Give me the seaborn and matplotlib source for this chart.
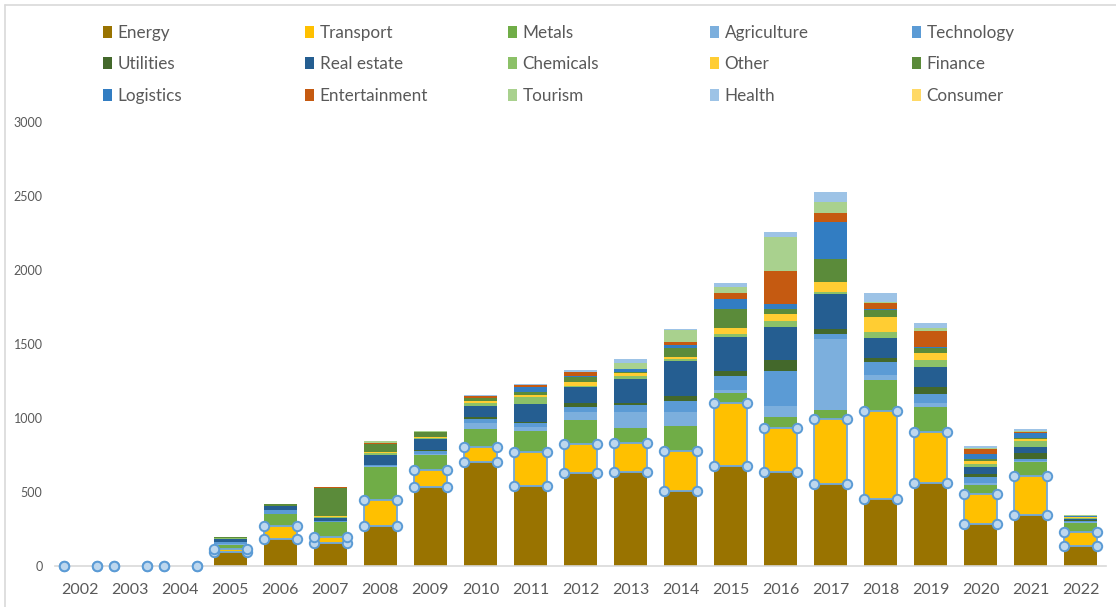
import numpy as np
import pandas as pd
import matplotlib
matplotlib.use("Agg")
import matplotlib.pyplot as plt
from matplotlib.patches import Patch
from matplotlib.lines import Line2D
import seaborn as sns

years = [str(y) for y in range(2002, 2023)]

energy        = [0, 0, 0, 92, 180, 155, 270, 536, 701, 543, 631, 638, 507, 676, 638, 552, 451, 559, 282, 343, 135]
transport     = [0, 0, 0, 25, 93, 39, 174, 111, 101, 228, 194, 194, 271, 428, 293, 442, 597, 349, 203, 265, 95]
metals        = [0, 0, 0, 25, 77, 101, 227, 103, 122, 144, 162, 103, 171, 68, 74, 61, 210, 165, 63, 93, 59]
agriculture   = [0, 0, 0, 5, 4, 3, 5, 8, 45, 23, 52, 108, 92, 18, 77, 478, 31, 27, 15, 9, 8]
technology    = [0, 0, 0, 15, 25, 7, 7, 18, 25, 27, 34, 46, 77, 97, 236, 36, 92, 63, 41, 11, 5]
utilities     = [0, 0, 0, 3, 0, 2, 3, 5, 16, 7, 27, 11, 33, 31, 75, 31, 23, 49, 16, 41, 6]
real_estate   = [0, 0, 0, 20, 29, 20, 67, 78, 72, 123, 112, 164, 237, 228, 223, 241, 140, 131, 51, 45, 10]
chemicals     = [0, 0, 0, 5, 0, 3, 8, 4, 18, 46, 5, 21, 10, 21, 40, 14, 38, 50, 19, 38, 6]
other         = [0, 0, 0, 0, 0, 8, 12, 10, 13, 15, 25, 18, 17, 40, 46, 63, 99, 49, 20, 12, 6]
finance       = [0, 0, 0, 4, 10, 191, 52, 30, 23, 22, 34, 9, 61, 133, 33, 156, 50, 34, 11, 11, 4]
logistics     = [0, 0, 0, 0, 0, 0, 0, 0, 0, 34, 8, 18, 16, 63, 38, 250, 4, 3, 34, 29, 2]
entertainment = [0, 0, 0, 0, 0, 5, 9, 0, 15, 12, 30, 0, 25, 41, 224, 61, 45, 110, 36, 11, 5]
tourism       = [0, 0, 0, 0, 0, 0, 10, 8, 0, 0, 0, 45, 79, 44, 225, 76, 7, 22, 9, 6, 2]
health        = [0, 0, 0, 0, 0, 0, 3, 5, 5, 7, 10, 22, 7, 23, 38, 66, 61, 30, 11, 10, 4]
consumer      = [0] * 21

series_names = ["Energy", "Transport", "Metals", "Agriculture", "Technology",
                "Utilities", "Real estate", "Chemicals", "Other", "Finance",
                "Logistics", "Entertainment", "Tourism", "Health", "Consumer"]
series_values = [energy, transport, metals, agriculture, technology,
                 utilities, real_estate, chemicals, other, finance,
                 logistics, entertainment, tourism, health, consumer]
series_colors = ["#997300", "#FFC000", "#70AD47", "#7CAFDD", "#5B9BD5",
                 "#43682B", "#255E91", "#8CC168", "#FFCD33", "#5B8B3A",
                 "#327DC2", "#C55A11", "#A9D18E", "#9DC3E6", "#FFD966"]

sns.set_theme(style="white")
plt.rcParams["font.family"] = ["Lato", "DejaVu Sans"]
text_color = "#595959"

W, H = 1116, 607
fig = plt.figure(figsize=(W / 100, H / 100), dpi=100)
ax = fig.add_axes([55 / W, 41 / H, 1051 / W, 443.7 / H])

bar_w = 0.66
cum = np.cumsum(np.array(series_values, dtype=float), axis=0)

# stacked bars: draw running totals from the top series down
for k in reversed(range(len(series_names))):
    df = pd.DataFrame({"year": years, "value": cum[k]})
    sns.barplot(data=df, x="year", y="value", order=years, color=series_colors[k],
                saturation=1, width=bar_w, errorbar=None, linewidth=0, ax=ax)

# selection outline and handles on the Transport series
xpos = np.arange(len(years))
base = np.array(energy, dtype=float)
tv = np.array(transport, dtype=float)
ax.bar(xpos[tv > 0], tv[tv > 0], bottom=base[tv > 0], width=bar_w, fill=False,
       edgecolor="#6FA8DC", linewidth=1.3, zorder=5)
hx = np.concatenate([xpos - bar_w / 2, xpos + bar_w / 2, xpos - bar_w / 2, xpos + bar_w / 2])
hy = np.concatenate([base, base, base + tv, base + tv])
ax.scatter(hx, hy, s=46, facecolor="#BDD7EE", edgecolor="#5B9BD5", linewidth=1.4,
           zorder=6, clip_on=False)

ax.set_xlim(-0.5, len(years) - 0.5)
ax.set_ylim(0, 3000)
ax.set_yticks(range(0, 3001, 500))
ax.set_xlabel("")
ax.set_ylabel("")
for s in ["top", "right", "left"]:
    ax.spines[s].set_visible(False)
ax.spines["bottom"].set_color("#D9D9D9")
ax.spines["bottom"].set_linewidth(1.2)
ax.tick_params(axis="y", length=0, pad=9, labelsize=9, labelcolor=text_color)
ax.tick_params(axis="x", length=0, pad=12, labelsize=11.5, labelcolor=text_color)

# chart border
fig.add_artist(Line2D([5 / W, 5 / W], [0, 1 - 5 / H], transform=fig.transFigure,
                      color="#D9D9D9", linewidth=1.2))
fig.add_artist(Line2D([5 / W, 1], [1 - 5 / H, 1 - 5 / H], transform=fig.transFigure,
                      color="#D9D9D9", linewidth=1.2))

# legend laid out row-wise in five columns
col_x = [103, 305, 508, 710, 912]
for j, x0 in enumerate(col_x):
    idx = [j, j + 5, j + 10]
    handles = [Patch(facecolor=series_colors[i], edgecolor="none") for i in idx]
    labels = [series_names[i] for i in idx]
    leg = fig.legend(handles, labels, loc="upper left", bbox_to_anchor=(x0 / W, 1 - 25 / H),
                     frameon=False, fontsize=12.3, handlelength=0.5, handleheight=0.7,
                     handletextpad=0.35, labelspacing=0.9, borderpad=0, borderaxespad=0)
    for t in leg.get_texts():
        t.set_color(text_color)

fig.savefig("out.png", dpi=100, facecolor="white")
